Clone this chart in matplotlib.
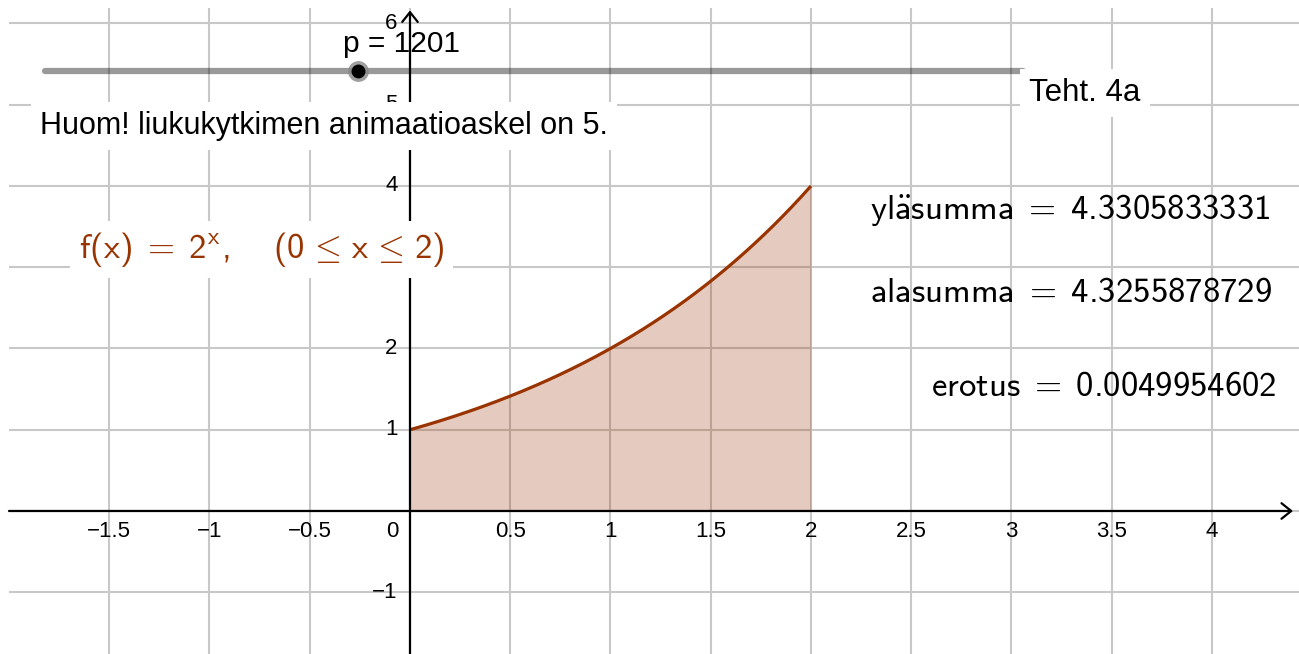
import numpy as np
import matplotlib.pyplot as plt

plt.rcParams['font.family'] = ['Liberation Sans', 'DejaVu Sans']
# kaavat sans-serif Computer Modern -fontilla
plt.rcParams['mathtext.fontset'] = 'custom'
plt.rcParams['mathtext.rm'] = 'cmss10'
plt.rcParams['mathtext.it'] = 'cmss10'
plt.rcParams['mathtext.sf'] = 'cmss10'
plt.rcParams['mathtext.bf'] = 'cmss10'

BROWN = (153 / 255, 51 / 255, 0)
GRID = '#c8c8c8'

# f(x) = 2^x on [0, 2]
base = 2
x_start, x_end = 0, 2

# slider and Riemann sums
p_value = 1201
slider_min, slider_max = 1, 3751
upper_sum = 4.3305833331
lower_sum = 4.3255878729
difference = 0.0049954602

x_ticks = [-1.5, -1, -0.5, 0, 0.5, 1, 1.5, 2, 2.5, 3, 3.5, 4]
x_labels = ['−1.5', '−1', '−0.5', '0', '0.5', '1', '1.5', '2', '2.5', '3', '3.5', '4']
# y = 3 jää funktion nimen alle, joten sitä ei piirretä
y_ticks = [-1, 1, 2, 4, 5, 6]
y_labels = ['−1', '1', '2', '4', '5', '6']

fig = plt.figure(figsize=(12.99, 6.54), dpi=100)
ax = fig.add_axes([9 / 1299, 0, 1290 / 1299, 646 / 654])
ax.set_xlim(-2.0, 4.434)
ax.set_ylim(-1.76, 6.19)
for s in ax.spines.values():
    s.set_visible(False)
ax.set_xticks(x_ticks)
ax.set_yticks([-1, 0, 1, 2, 3, 4, 5, 6])
ax.tick_params(length=0, labelbottom=False, labelleft=False)
ax.grid(color=GRID, lw=1.5)
ax.set_axisbelow(True)

# akselit nuolineen
arrow = dict(arrowstyle='->,head_length=0.35,head_width=0.28', lw=1.6, color='black',
             shrinkA=0, shrinkB=0, mutation_scale=20)
ax.annotate('', xy=(4.404, 0), xytext=(-2.0, 0), arrowprops=arrow, zorder=3)
ax.annotate('', xy=(0, 6.16), xytext=(0, -1.76), arrowprops=arrow, zorder=3)

for x, lab in zip(x_ticks, x_labels):
    dx = -12.5 if x == 0 else 0
    ax.annotate(lab, xy=(x, 0), xytext=(dx, -15), textcoords='offset points',
                ha='center', va='center', fontsize=16, zorder=4)
for y, lab in zip(y_ticks, y_labels):
    ax.annotate(lab, xy=(0, y), xytext=(-9, 0), textcoords='offset points',
                ha='right', va='center', fontsize=16, zorder=4)

# funktion kuvaaja ja pinta-ala
xs = np.linspace(x_start, x_end, 300)
ys = base ** xs
ax.fill_between(xs, 0, ys, color=BROWN, alpha=0.25, lw=0, zorder=1)
ax.plot(xs, ys, color=BROWN, lw=2.3, zorder=2, solid_capstyle='butt')

# liukukytkin
slider_x0, slider_x1, slider_y = -1.82, 3.057, 5.415
ax.plot([slider_x0, slider_x1], [slider_y, slider_y], color='black', alpha=0.4, lw=4.5,
        solid_capstyle='round', zorder=3)
knob = slider_x0 + (p_value - slider_min) / (slider_max - slider_min) * (slider_x1 - slider_x0)
ax.plot(knob, slider_y, 'o', ms=15, mfc='#888888', mec='none', alpha=0.8, zorder=4)
ax.plot(knob, slider_y, 'o', ms=10, mfc='black', mec='none', zorder=5)
ax.text(-0.334, 5.649, f'p = {p_value}', fontsize=21.5, ha='left', va='baseline', zorder=5)

box = dict(boxstyle='square,pad=0.3', fc='white', ec='none')
ax.text(3.087, 5.046, 'Teht. 4a', fontsize=22.5, ha='left', va='baseline', zorder=6, bbox=box)
ax.text(-1.845, 4.64, 'Huom! liukukytkimen animaatioaskel on 5.', fontsize=22,
        ha='left', va='baseline', zorder=6, bbox=box)

ax.text(-1.651, 3.114, r'$f(x)\ =\ 2^{x},\quad\ (0\,\leq\,x\,\leq\,2)$', color=BROWN,
        fontsize=25, ha='left', va='baseline', zorder=6,
        bbox=dict(boxstyle='square,pad=0.25', fc='white', ec='none'))

ax.text(4.289, 3.705, r'$yl\ddot{a}summa\ =\ %.10f$' % upper_sum, fontsize=25,
        ha='right', va='center', zorder=5)
ax.text(4.299, 2.683, r'$alasumma\ =\ %.10f$' % lower_sum, fontsize=25,
        ha='right', va='center', zorder=5)
ax.text(4.324, 1.526, r'$erotus\ =\ %.10f$' % difference, fontsize=25,
        ha='right', va='center', zorder=5)

fig.savefig('out.png', dpi=100)
